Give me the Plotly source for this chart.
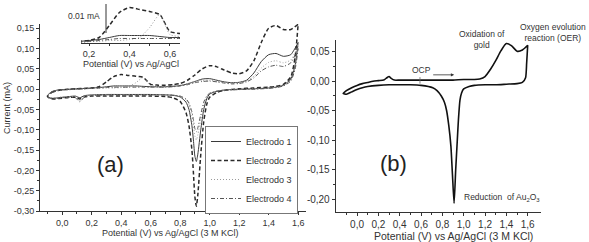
import numpy as np
import plotly.graph_objects as go

# ---------------- data: panel (a) ----------------
POT_FWD = [-0.10, -0.07, -0.03, 0.00, 0.05, 0.10, 0.15, 0.20, 0.25, 0.30, 0.35, 0.40, 0.45, 0.50,
           0.55, 0.60, 0.65, 0.70, 0.75, 0.80, 0.85, 0.90, 0.95, 1.00, 1.05, 1.10, 1.15, 1.20,
           1.25, 1.30, 1.35, 1.40, 1.45, 1.50, 1.55, 1.60]
POT_REV = [1.60, 1.58, 1.55, 1.50, 1.45, 1.40, 1.30, 1.20, 1.10, 1.05, 1.00, 0.98, 0.96, 0.94,
           0.92, 0.91, 0.90, 0.89, 0.88, 0.86, 0.84, 0.80, 0.75, 0.70, 0.60, 0.50, 0.40, 0.30,
           0.20, 0.15, 0.12, 0.09, 0.05, 0.00, -0.05, -0.08, -0.10]

E1_FWD = [-0.016, -0.006, -0.002, -0.001, 0.000, 0.001, 0.002, 0.003, 0.004, 0.006, 0.008, 0.008,
          0.008, 0.008, 0.007, 0.006, 0.006, 0.006, 0.007, 0.009, 0.013, 0.019, 0.025, 0.026,
          0.022, 0.018, 0.016, 0.017, 0.022, 0.040, 0.068, 0.085, 0.088, 0.081, 0.085, 0.115]
E2_FWD = [-0.018, -0.008, -0.003, -0.002, 0.000, 0.001, 0.002, 0.003, 0.006, 0.018, 0.031, 0.036,
          0.034, 0.032, 0.029, 0.012, 0.010, 0.010, 0.011, 0.014, 0.022, 0.035, 0.050, 0.058,
          0.055, 0.047, 0.040, 0.038, 0.045, 0.070, 0.115, 0.150, 0.157, 0.147, 0.147, 0.160]
E3_FWD = [-0.017, -0.007, -0.003, -0.002, -0.001, 0.000, 0.001, 0.002, 0.002, 0.003, 0.003, 0.004,
          0.006, 0.016, 0.029, 0.009, 0.007, 0.007, 0.008, 0.010, 0.014, 0.019, 0.022, 0.022,
          0.019, 0.016, 0.015, 0.016, 0.020, 0.032, 0.052, 0.066, 0.070, 0.065, 0.072, 0.105]
E4_FWD = [-0.018, -0.008, -0.004, -0.002, -0.001, 0.000, 0.001, 0.002, 0.003, 0.004, 0.005, 0.005,
          0.005, 0.005, 0.005, 0.005, 0.005, 0.005, 0.006, 0.008, 0.011, 0.016, 0.019, 0.020,
          0.018, 0.015, 0.013, 0.014, 0.018, 0.028, 0.045, 0.055, 0.059, 0.056, 0.065, 0.100]

E1_REV = [0.115, 0.060, 0.025, 0.010, 0.005, 0.003, 0.001, 0.000, -0.002, -0.005, -0.012, -0.024,
          -0.050, -0.100, -0.160, -0.178, -0.165, -0.125, -0.090, -0.050, -0.032, -0.019, -0.015,
          -0.014, -0.013, -0.013, -0.013, -0.013, -0.014, -0.016, -0.021, -0.017, -0.018, -0.020,
          -0.022, -0.022, -0.016]
E2_REV = [0.160, 0.080, 0.030, 0.012, 0.007, 0.005, 0.003, 0.001, -0.003, -0.008, -0.020, -0.038,
          -0.080, -0.160, -0.260, -0.288, -0.265, -0.205, -0.150, -0.090, -0.058, -0.030, -0.021,
          -0.018, -0.017, -0.017, -0.017, -0.017, -0.017, -0.019, -0.024, -0.020, -0.020, -0.022,
          -0.024, -0.023, -0.018]
E3_REV = [0.105, 0.055, 0.022, 0.009, 0.005, 0.003, 0.001, 0.000, -0.002, -0.004, -0.010, -0.019,
          -0.038, -0.075, -0.112, -0.125, -0.115, -0.088, -0.065, -0.038, -0.026, -0.017, -0.014,
          -0.013, -0.013, -0.013, -0.013, -0.013, -0.014, -0.018, -0.028, -0.019, -0.018, -0.019,
          -0.021, -0.021, -0.017]
E4_REV = [0.100, 0.050, 0.020, 0.008, 0.004, 0.002, 0.000, -0.001, -0.003, -0.005, -0.010, -0.017,
          -0.032, -0.062, -0.095, -0.105, -0.097, -0.075, -0.056, -0.034, -0.024, -0.017, -0.015,
          -0.014, -0.014, -0.014, -0.014, -0.014, -0.016, -0.020, -0.031, -0.021, -0.020, -0.021,
          -0.023, -0.022, -0.018]

SERIES_NAMES = ["Electrodo 1", "Electrodo 2", "Electrodo 3", "Electrodo 4"]

# ---------------- data: panel (b) ----------------
B_POT_FWD = [-0.13, -0.10, -0.05, 0.00, 0.05, 0.10, 0.15, 0.20, 0.25, 0.28, 0.30, 0.32, 0.35, 0.40,
             0.50, 0.60, 0.70, 0.80, 0.90, 1.00, 1.10, 1.15, 1.20, 1.25, 1.30, 1.35, 1.40, 1.45,
             1.50, 1.55, 1.60]
B_CUR_FWD = [-0.021, -0.016, -0.011, -0.007, -0.004, -0.002, 0.000, 0.001, 0.002, 0.006, 0.008,
             0.005, 0.002, 0.002, 0.002, 0.002, 0.002, 0.002, 0.002, 0.003, 0.003, 0.004, 0.008,
             0.020, 0.035, 0.052, 0.064, 0.060, 0.051, 0.053, 0.061]
B_POT_REV = [1.60, 1.59, 1.58, 1.55, 1.50, 1.40, 1.30, 1.20, 1.10, 1.05, 1.00, 0.98, 0.965, 0.95,
             0.94, 0.925, 0.91, 0.895, 0.88, 0.86, 0.84, 0.82, 0.79, 0.75, 0.71, 0.60, 0.50, 0.40,
             0.30, 0.20, 0.10, 0.05, 0.00, -0.05, -0.10, -0.13]
B_CUR_REV = [0.061, 0.030, 0.006, -0.002, -0.004, -0.005, -0.006, -0.006, -0.007, -0.009, -0.013,
             -0.020, -0.032, -0.067, -0.100, -0.150, -0.207, -0.160, -0.110, -0.075, -0.050,
             -0.036, -0.025, -0.016, -0.011, -0.007, -0.006, -0.006, -0.006, -0.007, -0.009,
             -0.011, -0.014, -0.018, -0.022, -0.021]

# ---------------- tick labels ----------------
XA_TICKS = [0.0, 0.2, 0.4, 0.6, 0.8, 1.0, 1.2, 1.4, 1.6]
XA_TEXT = ["0,0", "0,2", "0,4", "0,6", "0,8", "1,0", "1,2", "1,4", "1,6"]
YA_TICKS = [0.15, 0.10, 0.05, 0.00, -0.05, -0.10, -0.15, -0.20, -0.25, -0.30]
YA_TEXT = ["0,15", "0,10", "0,05", "0,00", "-0,05", "-0,10", "-0,15", "-0,20", "-0,25", "-0,30"]
YB_TICKS = [0.05, 0.00, -0.05, -0.10, -0.15, -0.20]
YB_TEXT = ["0,05", "0,00", "-0,05", "-0,10", "-0,15", "-0,20"]
XI_TICKS = [0.2, 0.4, 0.6]
XI_TEXT = ["0,2", "0,4", "0,6"]

W, H = 589, 242
FONT = "Liberation Sans, Arial, sans-serif"
TXT = "#333333"
AX = "#333333"

STYLES = [
    dict(color="#3a3a3a", width=1.0, dash="solid"),
    dict(color="#2a2a2a", width=1.5, dash="4px,2.5px"),
    dict(color="#9a9a9a", width=1.0, dash="1px,2px"),
    dict(color="#555555", width=1.0, dash="4px,2px,1px,2px"),
]

fig = go.Figure()
fwd = [E1_FWD, E2_FWD, E3_FWD, E4_FWD]
rev = [E1_REV, E2_REV, E3_REV, E4_REV]
for name, f, r, st in zip(SERIES_NAMES, fwd, rev, STYLES):
    xs = POT_FWD + POT_REV
    ys = f + r
    fig.add_trace(go.Scatter(x=xs, y=ys, mode="lines", name=name,
                             line=dict(**st, shape="spline", smoothing=0.6),
                             xaxis="x", yaxis="y", hoverinfo="skip"))
    fig.add_trace(go.Scatter(x=xs, y=ys, mode="lines", name=name, showlegend=False,
                             line=dict(**st, shape="spline", smoothing=0.6),
                             xaxis="x3", yaxis="y3", hoverinfo="skip"))

fig.add_trace(go.Scatter(x=B_POT_FWD + B_POT_REV, y=B_CUR_FWD + B_CUR_REV, mode="lines",
                         line=dict(color="#111111", width=1.6, shape="spline", smoothing=0.6),
                         showlegend=False, xaxis="x2", yaxis="y2", hoverinfo="skip"))


def px_x(p):
    return p / W


def px_y(p):
    return 1 - p / H


common = dict(showline=True, linecolor=AX, linewidth=1, ticks="outside", ticklen=3, tickcolor=AX,
              tickwidth=1, showgrid=False, zeroline=False, mirror=False, automargin=False,
              tickfont=dict(family=FONT, size=9, color=TXT), fixedrange=True)

xa_minor = list(np.round(np.arange(-0.1, 1.65, 0.2), 3))
ya_minor = list(np.round(np.arange(-0.275, 0.16, 0.05), 3))
yb_minor = list(np.round(np.arange(-0.225, 0.07, 0.05), 3))
xi_minor = list(np.round(np.arange(0.3, 0.65, 0.2), 3))
minor_style = dict(ticks="outside", ticklen=2, tickcolor=AX, showgrid=False)

fig.update_layout(
    width=W, height=H, margin=dict(l=0, r=0, t=0, b=0),
    paper_bgcolor="white", plot_bgcolor="rgba(0,0,0,0)",
    font=dict(family=FONT, size=9, color=TXT),
    xaxis=dict(common, domain=[px_x(40), px_x(305.5)], range=[-0.15, 1.65], anchor="y",
               tickvals=XA_TICKS, ticktext=XA_TEXT, minor=dict(minor_style, tickvals=xa_minor)),
    yaxis=dict(common, domain=[px_y(211), px_y(24)], range=[-0.30, 0.1606], anchor="x",
               tickvals=YA_TICKS, ticktext=YA_TEXT, minor=dict(minor_style, tickvals=ya_minor)),
    xaxis2=dict(common, domain=[px_x(335.7), px_x(540.5)], range=[-0.2, 1.72], anchor="y2",
                tickvals=XA_TICKS, ticktext=XA_TEXT, minor=dict(minor_style, tickvals=xa_minor),
                tickfont=dict(family=FONT, size=10, color=TXT)),
    yaxis2=dict(common, domain=[px_y(211.5), px_y(40)], range=[-0.221, 0.070], anchor="x2",
                tickvals=YB_TICKS, ticktext=YB_TEXT, minor=dict(minor_style, tickvals=yb_minor),
                tickfont=dict(family=FONT, size=10, color=TXT)),
    xaxis3=dict(common, domain=[px_x(81), px_x(180)], range=[0.16, 0.65], anchor="y3",
                tickvals=XI_TICKS, ticktext=XI_TEXT, ticklen=2,
                minor=dict(minor_style, tickvals=xi_minor),
                tickfont=dict(family=FONT, size=9, color=TXT)),
    yaxis3=dict(domain=[px_y(43), px_y(3)], range=[0.0005, 0.0405], anchor="x3", visible=False,
                fixedrange=True),
    legend=dict(x=px_x(298), xanchor="right", y=px_y(126), yanchor="top",
                bgcolor="white", bordercolor="#777777", borderwidth=1,
                font=dict(family=FONT, size=9, color=TXT), itemwidth=30, tracegroupgap=0),
    showlegend=True,
)

tf = dict(family=FONT, size=9, color=TXT)
C = dict(xanchor="center", yanchor="middle", showarrow=False)
ann = [
    # axis titles
    dict(C, text="Potential (V) vs Ag/AgCl (3 M KCl)", x=px_x(170), y=px_y(233), xref="paper",
         yref="paper", font=tf),
    dict(C, text="Current (mA)", x=px_x(7), y=px_y(108), xref="paper", yref="paper",
         textangle=-90, font=tf),
    dict(C, text="Potential (V) vs Ag/AgCl (3 M KCl)", x=px_x(453), y=px_y(235.5), xref="paper",
         yref="paper", font=dict(family=FONT, size=10.5, color=TXT)),
    dict(C, text="Potential (V) vs Ag/AgCl", x=px_x(130.5), y=px_y(63.5), xref="paper",
         yref="paper", font=tf),
    # panel labels
    dict(C, text="(a)", x=0.33, y=-0.185, xref="x", yref="y",
         font=dict(family=FONT, size=22, color="#222222")),
    dict(C, text="(b)", x=0.34, y=-0.14, xref="x2", yref="y2",
         font=dict(family=FONT, size=22, color="#222222")),
    # inset scale bar label
    dict(C, text="0.01 mA", x=px_x(84), y=px_y(16), xref="paper", yref="paper",
         font=dict(family=FONT, size=8.5, color=TXT)),
    # panel (b) notes
    dict(C, text="OCP", x=0.605, y=0.0194, xref="x2", yref="y2",
         font=dict(family=FONT, size=8.5, color=TXT)),
    dict(text="", x=0.91, y=0.0109, ax=0.70, ay=0.0109, xref="x2", yref="y2",
         axref="x2", ayref="y2", showarrow=True, arrowhead=2, arrowsize=0.8,
         arrowwidth=0.8, arrowcolor="#333333"),
    dict(C, text="Oxidation of<br>gold", x=px_x(482), y=px_y(39), xref="paper", yref="paper",
         align="center", font=dict(family=FONT, size=8.5, color=TXT)),
    dict(C, text="Oxygen evolution<br>reaction (OER)", x=px_x(553), y=px_y(32.5), xref="paper",
         yref="paper", align="center", font=dict(family=FONT, size=8.5, color=TXT)),
    dict(text="Reduction  of Au<sub>2</sub>O<sub>3</sub>", x=0.984, y=-0.198, xref="x2",
         yref="y2", xanchor="left", yanchor="middle", showarrow=False,
         font=dict(family=FONT, size=8.5, color=TXT)),
]
fig.update_layout(annotations=ann)

fig.update_layout(shapes=[
    dict(type="line", xref="paper", yref="paper", x0=px_x(106), x1=px_x(106), y0=px_y(33),
         y1=px_y(4), line=dict(color="#333333", width=1)),
    dict(type="line", xref="x2", yref="y2", x0=0.59, x1=0.59, y0=-0.004, y1=0.007,
         line=dict(color="#666666", width=0.8)),
])

fig.write_html("out.html", post_script="document.body.style.margin='0px';",
               config={"displayModeBar": False})
